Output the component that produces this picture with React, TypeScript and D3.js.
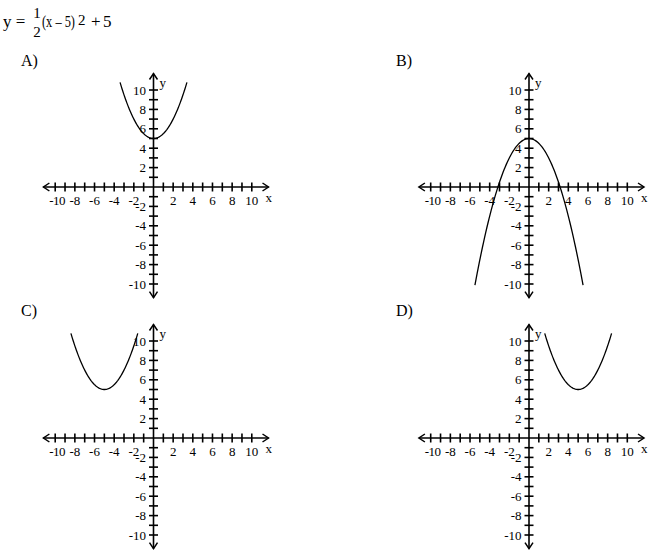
import React from 'react';
import * as d3 from 'd3';

// answer choices: y = a (x - h)^2 + k, drawn between xStart and xEnd
const choiceLabels = ["A)", "B)", "C)", "D)"];
const curveA = [0.5, -0.5, 0.5, 0.5];
const curveH = [0, 0, -5, 5];
const curveK = [5, 5, 5, 5];
const curveXStart = [-3.4, -5.5, -8.4, 1.6];
const curveXEnd = [3.4, 5.5, -1.6, 8.4];

const xTickLabels = [-10, -8, -6, -4, -2, 2, 4, 6, 8, 10];
const yTickLabels = [-10, -8, -6, -4, -2, 2, 4, 6, 8, 10];
const minorTicks = d3.range(-10, 11).filter(v => v !== 0);

// panel layout (pixel origins of each small graph)
const origins = [[153.5, 187], [529, 187], [153.5, 438], [529, 438]];
const labelPos = [[21, 66], [396, 66], [21, 316], [396, 316]];

const FONT = "'Liberation Serif', 'Times New Roman', serif";

const x = d3.scaleLinear().domain([-10, 10]).range([-98.3, 98.3]);
const y = d3.scaleLinear().domain([-10, 10]).range([97, -97]);

const fmt = (v: number) => (v < 0 ? '-' + Math.abs(v) : String(v));

const Graph: React.FC<{i: number}> = ({i}) => {
  const [ox, oy] = origins[i];
  const a = curveA[i], h = curveH[i], k = curveK[i];
  const pts = d3.range(0, 101).map(n => {
    const xv = curveXStart[i] + (curveXEnd[i] - curveXStart[i]) * n / 100;
    return [xv, a * (xv - h) ** 2 + k] as [number, number];
  });
  const line = d3.line<[number, number]>().x(d => x(d[0])).y(d => y(d[1]));
  const xl = x(-11.2), xr = x(11.7), yt = y(11.7), yb = y(-11.4);
  return (
    <g transform={`translate(${ox},${oy})`} stroke="#000" fill="none">
      <line x1={xl} x2={xr} y1={0} y2={0} strokeWidth={1.6}/>
      <line x1={0} x2={0} y1={yt} y2={yb} strokeWidth={1.6}/>
      {/* arrow heads */}
      <path d={`M${xl + 6},-4 L${xl},0 L${xl + 6},4`} strokeWidth={1.5}/>
      <path d={`M${xr - 6},-4 L${xr},0 L${xr - 6},4`} strokeWidth={1.5}/>
      <path d={`M-4,${yt + 6} L0,${yt} L4,${yt + 6}`} strokeWidth={1.5}/>
      <path d={`M-4,${yb - 6} L0,${yb} L4,${yb - 6}`} strokeWidth={1.5}/>
      {minorTicks.map(v => (
        <line key={'xt' + v} x1={x(v)} x2={x(v)} y1={-4.5} y2={4.5} strokeWidth={1.6}/>
      ))}
      {minorTicks.map(v => (
        <line key={'yt' + v} x1={-4.5} x2={4.5} y1={y(v)} y2={y(v)} strokeWidth={1.6}/>
      ))}
      <path d={line(pts)!} strokeWidth={1.3}/>
      <g stroke="none" fill="#000" fontFamily={FONT} fontSize={13}>
        {xTickLabels.map(v => (
          <text key={'xl' + v} x={x(v) + (v === -10 ? 2 : 0)} y={18} textAnchor="middle"
                letterSpacing={v === -10 ? -0.5 : 0}>{fmt(v)}</text>
        ))}
        {yTickLabels.map(v => (
          <text key={'yl' + v} x={-7.5} y={y(v) + 4.5} textAnchor="end">{fmt(v)}</text>
        ))}
        <text x={x(11.4)} y={15}>x</text>
        <text x={6} y={y(10) - 3}>y</text>
      </g>
    </g>
  );
};

export default function App() {
  return (
    <svg width={650} height={556} style={{position: 'absolute', left: 0, top: 0, background: '#fff'}}>
      <g fontFamily={FONT} fill="#000">
        <text x={3} y={27} fontSize={17}>y =</text>
        <text x={37} y={18} fontSize={15} textAnchor="middle">1</text>
        <text x={37} y={37} fontSize={15} textAnchor="middle">2</text>
        <text x={42} y={27} fontSize={17} textLength={33} lengthAdjust="spacingAndGlyphs">(x – 5)</text>
        <text x={78} y={25} fontSize={15}>2</text>
        <text x={91} y={27} fontSize={17}>+</text>
        <text x={103} y={27} fontSize={17}>5</text>
        {choiceLabels.map((l, i) => (
          <text key={l} x={labelPos[i][0]} y={labelPos[i][1]} fontSize={16}>{l}</text>
        ))}
      </g>
      {choiceLabels.map((l, i) => <Graph key={l} i={i}/>)}
    </svg>
  );
}
